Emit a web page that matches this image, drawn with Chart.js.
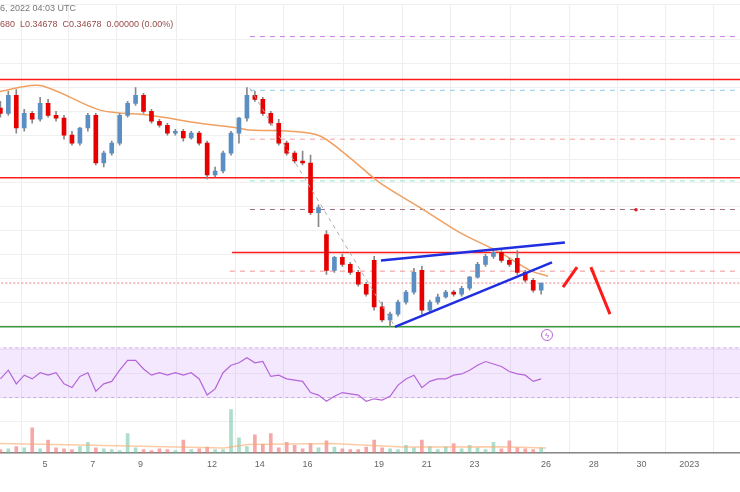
<!DOCTYPE html>
<html>
<head>
<meta charset="utf-8">
<script src="https://cdn.jsdelivr.net/npm/chart.js@4"></script>
<style>
  body { margin: 0; background: #fff; font-family: "Liberation Sans", Arial, sans-serif; }
  #wrap { position: relative; width: 740px; height: 492px; overflow: hidden; }
  #chart { position: absolute; left: -4px; top: 0; }
  .hdr { position: absolute; left: 0; font-size: 9px; white-space: pre; }
  .bolt { position: absolute; left: 541px; top: 329px; width: 12px; height: 12px; border: 1.3px solid #b565d9;
          border-radius: 50%; color: #b565d9; font-size: 8px; line-height: 12px; text-align: center; box-sizing: border-box; }
</style>
</head>
<body>
<div id="wrap">
  <canvas id="chart" width="748" height="492"></canvas>
  <div class="hdr" style="top:3px;color:#777">6, 2022 04:03 UTC</div>
  <div class="hdr" style="top:19px;color:#9a4a4a">680  L0.34678  C0.34678  0.00000 (0.00%)</div>
  <div class="bolt">ϟ</div>
</div>
<script>
// 8h candles, Dec 3 -> Dec 26 (values in thousandths of USD)
const startDay = 3.13;
const opens  = [390.8,389.5,394.0,385.8,389.5,388.0,392.0,389.0,388.3,384.0,382.0,385.8,389.0,377.0,379.5,382.0,389.0,392.0,394.0,390.0,387.5,386.5,384.5,385.0,383.3,384.5,382.0,374.0,375.0,379.5,384.5,388.3,394.0,393.0,389.5,387.0,382.0,379.5,377.5,377.0,364.5,359.0,350.0,353.3,351.5,349.5,346.5,352.5,340.8,337.5,339.0,342.0,344.5,350.0,340.0,342.0,343.3,344.5,344.0,345.5,348.3,351.5,353.5,354.5,352.5,353.0,349.5,347.5,345.0];
const highs  = [392.5,395.0,395.5,390.5,390.0,393.5,393.0,390.0,389.0,385.0,386.0,389.5,389.5,380.0,382.5,389.5,392.5,396.0,394.5,390.5,388.0,387.0,385.5,385.5,385.0,385.0,382.5,376.0,380.0,385.0,388.5,396.0,395.0,393.5,390.0,388.0,382.5,380.0,380.0,379.0,366.5,360.0,353.5,354.0,352.0,350.0,347.0,353.5,342.0,339.5,342.5,345.0,350.5,351.0,342.5,344.0,345.0,345.0,346.0,348.5,352.0,354.0,355.5,355.0,353.0,355.0,350.0,348.0,346.8];
const lows   = [388.5,389.0,384.5,385.0,387.0,387.5,388.5,387.5,383.0,381.5,381.5,385.0,376.5,376.0,379.0,381.5,388.5,391.5,389.5,387.0,386.0,384.0,384.0,382.5,383.0,381.5,373.0,373.5,374.5,379.0,382.0,387.5,392.5,389.0,386.5,381.5,379.0,377.0,376.5,364.0,361.0,349.0,349.5,351.0,349.0,346.0,343.5,340.0,337.0,335.8,338.5,341.5,344.0,339.0,339.5,341.5,343.0,343.5,343.5,345.0,348.0,351.0,353.0,352.0,351.0,349.0,347.0,344.5,344.0];
const closes = [389.5,394.0,385.8,389.5,388.0,392.0,389.0,388.3,384.0,382.0,385.8,389.0,377.0,379.5,382.0,389.0,392.0,394.0,390.0,387.5,386.5,384.5,385.0,383.3,384.5,382.0,374.0,375.0,379.5,384.5,388.3,394.0,393.0,389.5,387.0,382.0,379.5,377.5,377.0,364.5,365.8,350.0,353.3,351.5,349.5,346.5,344.0,340.8,337.5,339.0,342.0,344.5,349.5,340.0,342.0,343.3,344.5,344.0,345.5,348.3,351.5,353.5,354.5,352.5,351.5,349.5,347.5,345.0,346.78];
const volumes = [8,10,15,12,58,10,30,12,10,8,15,25,12,10,8,6,45,12,8,6,10,8,6,30,8,10,14,8,8,100,35,15,42,20,45,12,25,18,10,22,12,28,14,10,8,8,14,30,12,10,8,18,12,30,15,8,14,22,10,18,12,8,25,10,28,12,10,8,12];
const rsi = [45,52,41,48,45,50,48,50,41,38,47,50,35,41,43,52,60,60,53,48,50,48,50,48,50,45,32,37,50,56,58,62,58,59,47,48,45,44,43,34,32,27,31,34,33,32,27,29,28,31,40,45,48,38,43,45,45,48,49,52,56,59,57,55,51,49,48,43,45];

// moving averages
const smaDays   = [3.11,4.79,7.31,9.4,11.5,12.88,13.59,15.27,16.53,17.78,19.04,20.72,22.39,24.07,25.33,26.08];
const smaValues = [395.0,396.5,390.3,389.0,387.0,386.0,385.3,385.0,383.8,378.3,372.0,365.8,359.5,354.5,350.0,348.5];
const volMaDays   = [3.11,7,12.5,13.5,17,20,24,26];
const volMaValues = [22,18,12,20,22,14,15,12];

// drawn levels: [fromDay, toDay, price, color, dash]
const levels = [
  [3.0, 34.2, 398.0, '#ff1a1a', []],
  [3.0, 34.2, 373.3, '#ff1a1a', []],
  [12.84, 34.2, 354.5, '#ff1a1a', []],
  [3.0, 34.2, 335.8, '#3a9a3a', []],
  [13.59, 34.2, 408.8, '#c77dea', [5, 5]],
  [13.59, 34.2, 395.3, '#8ecbe8', [5, 5]],
  [13.59, 34.2, 383.0, '#f4a0a0', [5, 5]],
  [13.59, 34.2, 372.5, '#99e0cc', [5, 5]],
  [13.59, 34.2, 365.3, '#a07080', [5, 5]],
  [12.75, 34.2, 349.8, '#f29090', [5, 5]],
  [3.0, 34.2, 346.8, '#f08080', [2, 2]]
];
// trend lines: [d1, p1, d2, p2, color, width, dash]
const trendLines = [
  [19.08, 352.5, 26.79, 357.0, '#1f2ee0', 2.5, []],
  [19.67, 335.8, 26.25, 352.0, '#1f2ee0', 2.5, []],
  [26.71, 345.8, 27.3, 350.8, '#ff1a1a', 3, []],
  [27.88, 350.8, 28.68, 339.0, '#ff1a1a', 3, []],
  [13.59, 395.8, 19.67, 335.8, '#aaaaaa', 1, [4, 4]]
];
const tickDays = [5, 7, 9, 12, 14, 16, 19, 21, 23, 26, 28, 30, 32];

const times = opens.map((_, i) => startDay + i / 3);
const UP = '#5b8fc4', DOWN = '#e60000';
const isUp = opens.map((o, i) => closes[i] >= o);

const datasets = [];
datasets.push({
  type: 'line', yAxisID: 'yRsi', order: 20, pointRadius: 0, borderColor: '#cfa7ee', borderWidth: 1, borderDash: [3, 3],
  data: [{x: 3.0, y: 70}, {x: 34.2, y: 70}], fill: '+1', backgroundColor: 'rgba(200,150,245,0.22)'
});
datasets.push({
  type: 'line', yAxisID: 'yRsi', order: 20, pointRadius: 0, borderColor: '#cfa7ee', borderWidth: 1, borderDash: [3, 3],
  data: [{x: 3.0, y: 30}, {x: 34.2, y: 30}], fill: false
});
datasets.push({
  type: 'line', yAxisID: 'yRsi', order: 4, pointRadius: 0, borderColor: '#b565d9', borderWidth: 1.2,
  data: times.map((t, i) => ({x: t, y: rsi[i]}))
});
levels.forEach(l => datasets.push({
  type: 'line', yAxisID: 'yPrice', order: 10, pointRadius: 0, borderColor: l[3], borderWidth: l[4].length ? 1 : 1.5,
  borderDash: l[4], data: [{x: l[0], y: l[2] / 1000}, {x: l[1], y: l[2] / 1000}]
}));
datasets.push({
  type: 'bar', yAxisID: 'yVol', order: 9, barThickness: 3,
  backgroundColor: isUp.map(u => u ? 'rgba(90,190,150,0.5)' : 'rgba(240,110,110,0.6)'),
  data: times.map((t, i) => ({x: t, y: volumes[i]}))
});
datasets.push({
  type: 'line', yAxisID: 'yVol', order: 8, pointRadius: 0, borderColor: 'rgba(250,170,110,0.6)', borderWidth: 1.5,
  data: volMaDays.map((d, i) => ({x: d, y: volMaValues[i]}))
});
datasets.push({
  type: 'line', yAxisID: 'yPrice', order: 5, pointRadius: 0, borderColor: '#f0a060', borderWidth: 1.5, tension: 0.3,
  data: smaDays.map((d, i) => ({x: d, y: smaValues[i] / 1000}))
});
datasets.push({
  type: 'bar', yAxisID: 'yPrice', order: 3, barThickness: 1, backgroundColor: '#888',
  data: times.map((t, i) => ({x: t, y: [lows[i] / 1000, highs[i] / 1000]}))
});
datasets.push({
  type: 'bar', yAxisID: 'yPrice', order: 2, barThickness: 4,
  backgroundColor: isUp.map(u => u ? UP : DOWN), minBarLength: 1,
  data: times.map((t, i) => ({x: t, y: [opens[i] / 1000, closes[i] / 1000]}))
});
trendLines.forEach(l => datasets.push({
  type: 'line', yAxisID: 'yPrice', order: 1, pointRadius: 0, borderColor: l[4], borderWidth: l[5], borderDash: l[6],
  data: [{x: l[0], y: l[1] / 1000}, {x: l[2], y: l[3] / 1000}]
}));
datasets.push({
  type: 'line', yAxisID: 'yPrice', order: 1, showLine: false, pointRadius: 1.8, pointBackgroundColor: '#e02020', pointBorderWidth: 0,
  data: [{x: 29.77, y: 0.36525}]
});

new Chart(document.getElementById('chart'), {
  data: { datasets },
  options: {
    responsive: false,
    animation: false,
    grouped: false,
    layout: { padding: { bottom: 16, top: -3 } },
    plugins: { legend: { display: false }, tooltip: { enabled: false } },
    scales: {
      x: {
        type: 'linear', min: 3.114, max: 34.13, offset: false,
        afterBuildTicks: ax => { ax.ticks = tickDays.map(v => ({value: v})); },
        ticks: { color: '#666', font: { size: 9 }, padding: 6, autoSkip: false, maxRotation: 0,
          callback: v => v === 32 ? '2023' : String(v) },
        grid: { color: '#eeeeee', drawTicks: false },
        border: { color: '#888', width: 1.5 }
      },
      yPrice: {
        axis: 'y', position: 'right', display: true, min: 0.3040, max: 0.4170,
        afterFit: ax => { ax.width = 0; },
        ticks: { display: false, stepSize: 0.006 },
        grid: { color: '#f0f0f0', drawTicks: false }, border: { display: false }
      },
      yRsi: { axis: 'y', display: false, min: -14.8, max: 346.8 },
      yVol: { axis: 'y', display: false, min: 0, max: 1027 }
    }
  }
});
</script>
</body>
</html>
